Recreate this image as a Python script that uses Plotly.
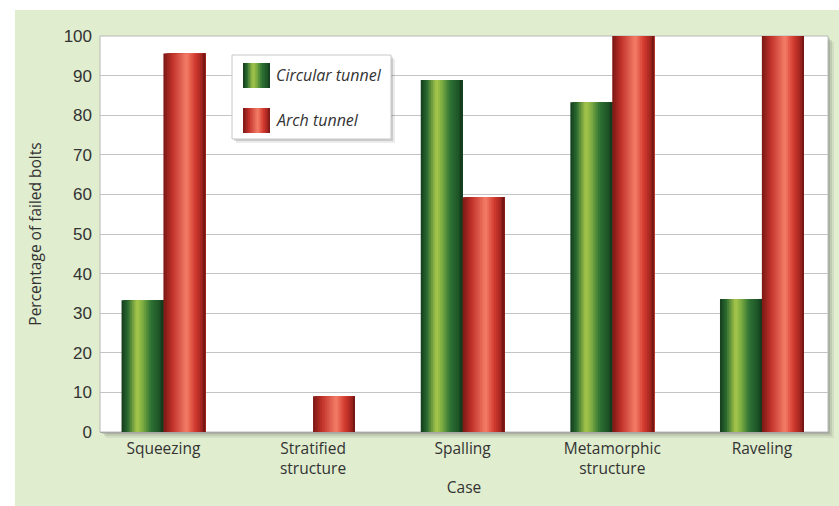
import plotly.graph_objects as go

# ---- data ----
cases = ["Squeezing", "Stratified<br>structure", "Spalling", "Metamorphic<br>structure", "Raveling"]
circular_tunnel = [33.3, 0.0, 88.9, 83.3, 33.6]
arch_tunnel = [95.6, 9.0, 59.3, 100.0, 100.0]
series_names = ["Circular tunnel", "Arch tunnel"]
y_ticks = [0, 10, 20, 30, 40, 50, 60, 70, 80, 90, 100]

# ---- canvas geometry ----
W, H = 839, 506
ML, MR, MT, MB = 100, 11, 36, 74
PW, PH = W - ML - MR, H - MT - MB


def px(x):
    return (x - ML) / PW


def py(y):
    return (H - MB - y) / PH


# cylinder-like shading profiles (left edge -> right edge)
green_stops = [(0.0, "#143b1c"), (0.14, "#28672f"), (0.37, "#a8c84b"),
               (0.5, "#7fae42"), (0.7, "#2e7234"), (0.9, "#1e5427"), (1.0, "#11361a")]
red_stops = [(0.0, "#7a1714"), (0.22, "#c2332b"), (0.55, "#f47e68"),
             (0.75, "#d43c30"), (0.92, "#9f231f"), (1.0, "#6b1311")]


def hex2rgb(h):
    h = h.lstrip("#")
    return tuple(int(h[i:i + 2], 16) for i in (0, 2, 4))


def shade(stops, t):
    for (t0, c0), (t1, c1) in zip(stops[:-1], stops[1:]):
        if t0 <= t <= t1:
            f = (t - t0) / (t1 - t0) if t1 > t0 else 0
            a, b = hex2rgb(c0), hex2rgb(c1)
            r = [round(a[k] + (b[k] - a[k]) * f) for k in range(3)]
            return "rgb(%d,%d,%d)" % tuple(r)
    return stops[-1][1]


BW = 0.28      # width of one bar in category units
N = 24         # shading strips per bar

fig = go.Figure()

# each strip starts further right and runs to the bar's right edge,
# so later strips cover earlier ones without seams
for values, stops, start, name in [
    (circular_tunnel, green_stops, -BW, series_names[0]),
    (arch_tunnel, red_stops, 0.0, series_names[1]),
]:
    for i in range(N):
        t = (i + 0.5) / N
        fig.add_trace(go.Bar(
            x=cases, y=values,
            offset=start + i * BW / N,
            width=BW - i * BW / N,
            marker=dict(color=shade(stops, t), line=dict(width=0)),
            name=name,
            showlegend=False,
            hoverinfo="x+y+name" if i == N // 2 else "skip",
        ))

shapes = []
# light green panel behind everything
shapes.append(dict(type="rect", xref="paper", yref="paper", layer="below",
                   x0=px(15), x1=px(845), y0=py(512), y1=py(10),
                   fillcolor="#e0edcf", line=dict(width=0)))
# soft drop shadow of the plot area
for d, op in [(6, 0.08), (4, 0.12), (2, 0.18)]:
    shapes.append(dict(type="rect", xref="paper", yref="paper", layer="below",
                       x0=px(ML + d), x1=px(ML + PW + d), y0=py(MT + PH + d), y1=py(MT + d),
                       fillcolor="rgba(60,60,60,%.2f)" % op, line=dict(width=0)))
shapes.append(dict(type="rect", xref="paper", yref="paper", layer="below",
                   x0=0, x1=1, y0=0, y1=1, fillcolor="white",
                   line=dict(color="#b8b8b8", width=1)))

# legend box with shadow
LX0, LX1, LY0, LY1 = 232, 391, 55, 139
for d, op in [(4, 0.10), (2, 0.18)]:
    shapes.append(dict(type="rect", xref="paper", yref="paper", layer="above",
                       x0=px(LX0 + d), x1=px(LX1 + d), y0=py(LY1 + d), y1=py(LY0 + d),
                       fillcolor="rgba(60,60,60,%.2f)" % op, line=dict(width=0)))
shapes.append(dict(type="rect", xref="paper", yref="paper", layer="above",
                   x0=px(LX0), x1=px(LX1), y0=py(LY1), y1=py(LY0),
                   fillcolor="white", line=dict(color="#c8c8c8", width=1)))

annotations = []
SX0, SX1, SN = 243, 270, 16
for stops, (sy0, sy1), label in [(green_stops, (63, 88), series_names[0]),
                                 (red_stops, (108, 133), series_names[1])]:
    sw = (SX1 - SX0) / SN
    for i in range(SN):
        t = (i + 0.5) / SN
        shapes.append(dict(type="rect", xref="paper", yref="paper", layer="above",
                           x0=px(SX0 + i * sw), x1=px(SX1),
                           y0=py(sy1), y1=py(sy0),
                           fillcolor=shade(stops, t), line=dict(width=0)))
    annotations.append(dict(xref="paper", yref="paper", x=px(274), y=py((sy0 + sy1) / 2),
                            xanchor="left", yanchor="middle", showarrow=False,
                            text="<i>%s</i>" % label,
                            font=dict(family="Open Sans", size=16, color="#333333")))

fig.update_layout(
    width=W, height=H,
    margin=dict(l=ML, r=MR, t=MT, b=MB),
    paper_bgcolor="white",
    plot_bgcolor="white",
    barmode="overlay",
    showlegend=False,
    shapes=shapes,
    annotations=annotations,
    xaxis=dict(
        type="category",
        range=[-0.424, 4.442],
        showgrid=False,
        showline=True, linecolor="#a8a8a8", linewidth=1,
        ticks="",
        ticklabelstandoff=2,
        tickfont=dict(family="Open Sans", size=15.5, color="#333333"),
        title=dict(text="Case", standoff=4,
                   font=dict(family="Open Sans", size=15.5, color="#333333")),
    ),
    yaxis=dict(
        range=[0, 100],
        tickvals=y_ticks,
        showgrid=True, gridcolor="#c4c4c4", gridwidth=1,
        zeroline=False,
        showline=False,
        ticks="",
        ticklabelstandoff=7,
        tickfont=dict(family="Liberation Sans", size=17, color="#333333"),
        title=dict(text="Percentage of failed bolts", standoff=18,
                   font=dict(family="Open Sans", size=15.5, color="#333333")),
    ),
)

fig.write_html("out.html")
